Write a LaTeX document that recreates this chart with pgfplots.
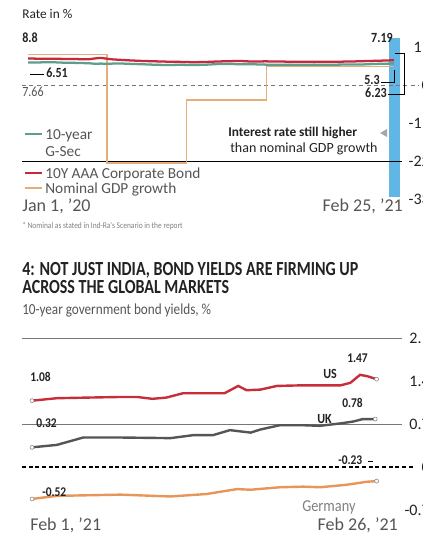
\documentclass[border=0pt]{standalone}
\usepackage{pgfplots}
\pgfplotsset{compat=1.18}
\usepackage{fontspec}
\setmainfont{Carlito}
\newfontfamily\cond{Carlito}[FakeStretch=0.86]
\newfontfamily\titlefont{Carlito}[FakeStretch=0.8]
\definecolor{gsec}{HTML}{5E9E8C}
\definecolor{aaa}{HTML}{C8283C}
\definecolor{gdp}{HTML}{E3AE78}
\definecolor{usred}{HTML}{C62E3A}
\definecolor{ukgray}{HTML}{555555}
\definecolor{deor}{HTML}{E8955A}
\definecolor{bandblue}{HTML}{62B6E6}
\definecolor{txt}{HTML}{222222}
\definecolor{gridc}{HTML}{777777}
\newcommand\fs[1]{\fontsize{#1}{#1}\selectfont}

\pgfplotsset{
  panel/.style={
    scale only axis, anchor=north west, clip=false,
    axis line style={draw=none}, tick style={draw=none},
    major tick length=0pt,
    xtick=\empty, ytick pos=right, yticklabel pos=right,
    yticklabel style={anchor=east, inner sep=0pt, xshift=22.5pt, font=\fs{12}, text=txt},
  }
}
\begin{document}
\begin{tikzpicture}
% ---------------- top chart ----------------
\begin{axis}[panel, at={(16.5pt,-30.075pt)}, width=283.5pt, height=121.8pt,
  xmin=-7, xmax=428, ymin=-34, ymax=13,
  ytick={-33,-22,-11,0,11}, yticklabels={-33,-22,-11,0,11}]
\addplot[draw=none, fill=bandblue] coordinates {(415,-32.4) (428,-32.4) (428,13.6) (415,13.6)};
\draw[black, line width=0.6pt] (axis cs:-7,-22) -- (axis cs:430,-22);
\draw[gridc, line width=0.7pt, dash pattern=on 3pt off 2.5pt] (axis cs:-7,0) -- (axis cs:449,0);
\addplot[gdp, line width=1pt] coordinates {
 (0,8.8) (91,8.8) (91,-22.6) (182,-22.6) (182,-4.3) (274,-4.3) (274,5.3) (421,5.3)};
\addplot[gsec, line width=1.7pt] coordinates {
 (0,6.51) (14,6.55) (28,6.60) (42,6.45) (56,6.40) (70,6.30) (77,6.15) (84,6.20) (91,6.15)
 (105,6.25) (119,6.10) (133,6.00) (147,5.85) (161,5.80) (175,5.85) (189,5.80) (203,5.85)
 (217,6.05) (231,6.10) (245,6.00) (259,6.00) (273,5.90) (287,5.85) (301,5.90) (315,5.87)
 (329,5.90) (343,5.88) (357,5.90) (371,5.92) (385,5.95) (399,6.10) (413,6.18) (421,6.23)};
\addplot[aaa, line width=1.7pt] coordinates {
 (0,7.66) (14,7.62) (28,7.60) (42,7.55) (56,7.50) (70,7.45) (77,7.70) (84,7.85) (91,7.60)
 (98,7.40) (105,7.30) (119,7.10) (133,6.95) (147,6.85) (161,6.75) (175,6.70) (189,6.60)
 (203,6.65) (217,6.80) (231,6.90) (245,6.95) (252,6.85) (259,6.80) (273,6.85) (287,6.80)
 (301,6.75) (315,6.70) (329,6.70) (343,6.72) (357,6.75) (371,6.80) (385,6.90) (399,7.00)
 (413,7.10) (421,7.19)};
\end{axis}
% ---------------- bottom chart ----------------
\begin{axis}[panel, at={(16.5pt,-248.9pt)}, width=283.5pt, height=138.2pt,
  xmin=0.277, xmax=27.59, ymin=-0.8, ymax=2.2,
  ytick={-0.7,0,0.7,1.4,2.1}, yticklabels={-0.7,0,0.7,1.4,2.1}]
\draw[gridc, line width=0.6pt] (axis cs:0.277,2.1) -- (axis cs:27.7,2.1);
\draw[gridc, line width=0.6pt] (axis cs:0.277,0.7) -- (axis cs:27.7,0.7);
\draw[black, line width=0.9pt, dash pattern=on 3pt off 2pt] (axis cs:0.277,0) -- (axis cs:28.67,0);
\addplot[usred, line width=1.8pt] coordinates {
 (1.0,1.08) (2.8,1.12) (5.0,1.13) (7.4,1.14) (8.6,1.14) (9.7,1.11) (10.7,1.13) (11.9,1.20)
 (13.6,1.20) (14.9,1.20) (15.9,1.32) (16.5,1.25) (17.5,1.26) (18.7,1.32) (20.6,1.33)
 (23.3,1.33) (24.0,1.37) (24.7,1.50) (25.2,1.48) (25.9,1.43)};
\addplot[ukgray, line width=1.8pt] coordinates {
 (1.0,0.32) (2.8,0.36) (4.7,0.48) (7.4,0.48) (11.0,0.47) (12.7,0.52) (14.1,0.52) (15.3,0.60)
 (16.8,0.56) (17.5,0.61) (18.9,0.68) (20.6,0.68) (21.8,0.67) (23.3,0.71) (24.2,0.74)
 (24.9,0.78) (25.8,0.78)};
\addplot[deor, line width=1.8pt] coordinates {
 (1.0,-0.52) (2.8,-0.47) (7.4,-0.45) (11.0,-0.48) (13.6,-0.44) (15.8,-0.36) (16.8,-0.37)
 (18.9,-0.33) (20.6,-0.32) (21.8,-0.33) (23.7,-0.29) (25.2,-0.24) (25.9,-0.23)};
\addplot[only marks, mark=*, mark size=1.5pt, mark options={fill=white, draw=gray, line width=0.4pt}]
 coordinates {(1.0,1.08) (25.9,1.43) (1.0,0.32) (25.8,0.78) (1.0,-0.52) (25.9,-0.23)};
\end{axis}
% ---------------- texts ----------------
\begin{scope}[x=0.75pt, y=-0.75pt, every node/.style={inner sep=0pt, text=txt}]
\node[anchor=base west, font=\fs{10}] at (22,19) {Rate in \%};
\node[anchor=base west, font=\bfseries\cond\fs{10.5}] at (22,43) {8.8};
\node[anchor=base east, font=\bfseries\cond\fs{10.5}] at (393,43) {7.19};
\draw[black, line width=0.6pt] (30,74) -- (44,74);
\node[anchor=base west, font=\bfseries\cond\fs{10.5}] at (46,78) {6.51};
\node[anchor=base west, font=\cond\fs{10.5}, text=ukgray] at (22,97) {7.66};
\node[anchor=base east, font=\bfseries\cond\fs{10.5}] at (380,85) {5.3};
\draw[black, line width=0.5pt] (381,82) -- (394,82) -- (394,70);
\node[anchor=base east, font=\bfseries\cond\fs{10.5}] at (387,98) {6.23};
\draw[black, line width=0.5pt] (388,94) -- (404,94) -- (404,53) -- (395,53);
% legend
\draw[gsec, line width=2.2pt] (25,134) -- (42,134);
\node[anchor=base west, font=\fs{11.5}, text=ukgray] at (45,140) {10-year};
\node[anchor=base west, font=\fs{11.5}, text=ukgray] at (45,157) {G-Sec};
\draw[aaa, line width=2.2pt] (25,173) -- (42,173);
\node[anchor=base west, font=\fs{11.5}, text=ukgray] at (45,179) {10Y AAA Corporate Bond};
\draw[gdp, line width=1.8pt] (25,188) -- (42,188);
\node[anchor=base west, font=\fs{11.5}, text=ukgray] at (45,194) {Nominal GDP growth};
% annotation
\node[anchor=base west, font=\bfseries\fs{10}] at (228,137) {Interest rate still higher};
\node[anchor=base west, font=\fs{10.5}] at (230,153) {than nominal GDP growth};
\fill[gray!70] (380,133) -- (387,129) -- (387,137) -- cycle;
% dates
\node[anchor=base west, font=\fs{13.5}, text=ukgray] at (22,211) {Jan 1, '20};
\node[anchor=base east, font=\fs{13.5}, text=ukgray] at (403,211) {Feb 25, '21};
\node[anchor=base west, font=\cond\fs{6.5}, text=gray] at (22,228) {* Nominal as stated in Ind-Ra's Scenario in the report};
% title
\node[anchor=base west, font=\titlefont\bfseries\fs{15}] at (22,275)
  {4: NOT JUST INDIA, BOND YIELDS ARE FIRMING UP};
\node[anchor=base west, font=\titlefont\bfseries\fs{15}] at (22,293)
  {ACROSS THE GLOBAL MARKETS};
\node[anchor=base west, font=\cond\fs{11.5}, text=ukgray] at (22,314) {10-year government bond yields, \%};
% bottom labels
\node[anchor=base west, font=\bfseries\cond\fs{10}] at (30,381) {1.08};
\node[anchor=base west, font=\bfseries\cond\fs{10.5}] at (323,378) {US};
\node[anchor=base west, font=\bfseries\cond\fs{10}] at (347,362) {1.47};
\node[anchor=base west, font=\bfseries\cond\fs{10}] at (342,407) {0.78};
\node[anchor=base west, font=\bfseries\cond\fs{10.5}] at (317,423) {UK};
\draw[gridc, line width=0.5pt] (31,424) -- (35,424);
\node[anchor=base west, font=\bfseries\cond\fs{10}] at (36,427) {0.32};
\node[anchor=base west, font=\bfseries\cond\fs{10}] at (338,464) {-0.23};
\draw[black, line width=0.5pt] (368,461) -- (373,461);
\node[anchor=base west, font=\bfseries\cond\fs{10}] at (42,496) {-0.52};
\node[anchor=base west, font=\cond\fs{12.5}, text=gray] at (302,511) {Germany};
\node[anchor=base west, font=\fs{13.5}, text=ukgray] at (30,530) {Feb 1, '21};
\node[anchor=base east, font=\fs{13.5}, text=ukgray] at (398,530) {Feb 26, '21};
\end{scope}
\pgfresetboundingbox
\path[use as bounding box] (0,0) rectangle (317.25pt,-414pt);
\end{tikzpicture}
\end{document}
